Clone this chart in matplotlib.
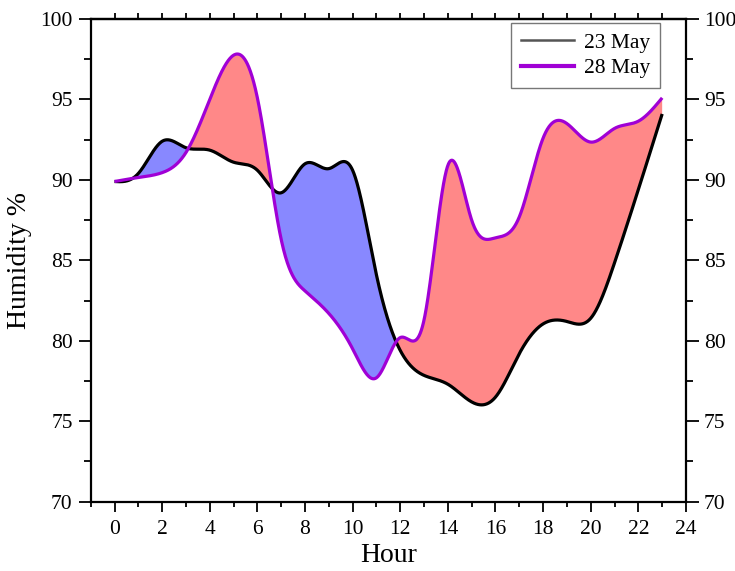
import numpy as np
import matplotlib
matplotlib.use("Agg")
import matplotlib.pyplot as plt
from matplotlib.ticker import MultipleLocator
from matplotlib.lines import Line2D

hours = list(range(24))
may23 = [89.9, 90.4, 92.4, 92.0, 91.85, 91.1, 90.6, 89.2, 91.0, 90.7, 90.6, 84.1,
         79.4, 77.85, 77.3, 76.2, 76.5, 79.2, 81.05, 81.2, 81.4, 84.85, 89.4, 94.1]
may28 = [89.9, 90.15, 90.45, 91.7, 95.0, 97.75, 95.1, 86.3, 83.1, 81.7, 79.5, 77.7,
         80.2, 81.3, 90.9, 87.5, 86.4, 87.7, 92.6, 93.5, 92.35, 93.2, 93.65, 95.1]
labels = ["23 May", "28 May"]
xticks = list(range(0, 25, 2))
yticks = list(range(70, 101, 5))


def natural_spline(x, y, xs):
    x = np.asarray(x, float); y = np.asarray(y, float)
    n = len(x)
    h = np.diff(x)
    A = np.zeros((n, n)); b = np.zeros(n)
    A[0, 0] = 1; A[-1, -1] = 1
    for i in range(1, n - 1):
        A[i, i - 1] = h[i - 1]
        A[i, i] = 2 * (h[i - 1] + h[i])
        A[i, i + 1] = h[i]
        b[i] = 6 * ((y[i + 1] - y[i]) / h[i] - (y[i] - y[i - 1]) / h[i - 1])
    M = np.linalg.solve(A, b)
    idx = np.clip(np.searchsorted(x, xs) - 1, 0, n - 2)
    x0 = x[idx]; x1 = x[idx + 1]; hh = x1 - x0
    t0 = x1 - xs; t1 = xs - x0
    return (M[idx] * t0**3 / (6 * hh) + M[idx + 1] * t1**3 / (6 * hh)
            + (y[idx] / hh - M[idx] * hh / 6) * t0
            + (y[idx + 1] / hh - M[idx + 1] * hh / 6) * t1)


xs = np.linspace(hours[0], hours[-1], 2000)
s23 = natural_spline(hours, may23, xs)
s28 = natural_spline(hours, may28, xs)

plt.rcParams['font.family'] = ['Liberation Serif', 'DejaVu Serif']
fig = plt.figure(figsize=(7.35, 5.71), dpi=100)
ax = fig.add_axes([0.1234, 0.1214, 0.8099, 0.8453])

ax.fill_between(xs, s23, s28, where=s23 >= s28, interpolate=True,
                color='#8888FF', linewidth=0)
ax.fill_between(xs, s23, s28, where=s28 >= s23, interpolate=True,
                color='#FF8888', linewidth=0)
ax.plot(xs, s23, color='black', lw=2.3, solid_capstyle='butt')
ax.plot(xs, s28, color='#A000D5', lw=2.3, solid_capstyle='butt')

ax.set_xlim(-1, 24)
ax.set_ylim(70, 100)
ax.set_xticks(xticks)
ax.xaxis.set_minor_locator(MultipleLocator(1))
ax.set_yticks(yticks)
ax.yaxis.set_minor_locator(MultipleLocator(2.5))
ax.tick_params(axis='x', which='major', direction='out', length=7, width=1.3,
               labelsize=15.5, pad=6)
ax.tick_params(axis='x', which='minor', direction='out', length=3.5, width=1.3)
ax.tick_params(axis='y', which='major', direction='out', length=9, width=1.3,
               labelsize=15.5, right=True, labelright=True, pad=4)
ax.tick_params(axis='y', which='minor', direction='out', length=5, width=1.3,
               right=True)
for s in ax.spines.values():
    s.set_linewidth(1.6)

top = ax.secondary_xaxis('top')
top.set_xticks(list(range(0, 24)))
top.tick_params(direction='out', length=4, width=1.3, labeltop=False)
top.spines['top'].set_linewidth(1.6)

ax.set_xlabel('Hour', fontsize=20, labelpad=3)
ax.set_ylabel('Humidity %', fontsize=20, labelpad=6)

handles = [Line2D([], [], color='#555555', lw=1.8),
           Line2D([], [], color='#A000D5', lw=3)]
leg = ax.legend(handles, labels, loc='upper right', bbox_to_anchor=(0.9563, 0.9917),
                borderaxespad=0, fancybox=False, edgecolor='#777777', framealpha=1,
                fontsize=15.5, handlelength=2.5, handletextpad=0.45,
                labelspacing=0.25, borderpad=0.45)
leg.get_frame().set_linewidth(1.0)
leg._legend_box.align = "left"

fig.savefig('out.png', dpi=100)
